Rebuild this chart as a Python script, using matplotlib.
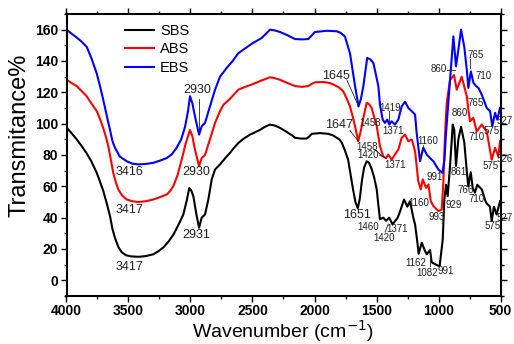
import matplotlib
matplotlib.use("Agg")
import matplotlib.pyplot as plt
from matplotlib.ticker import MultipleLocator
from matplotlib.transforms import blended_transform_factory

plt.rcParams['font.family'] = ['Liberation Sans', 'DejaVu Sans']

# ---------------- data ----------------
sbs_wn = [4000, 3960, 3918, 3880, 3837, 3800, 3756, 3730, 3703, 3675, 3649, 3630, 3609, 3580,
          3555, 3520, 3480, 3417, 3360, 3300, 3260, 3219, 3180, 3139, 3100, 3058, 3030, 3010,
          2995, 2977, 2950, 2931, 2910, 2883, 2856, 2829, 2802, 2762, 2720, 2681, 2650, 2614,
          2570, 2520, 2480, 2440, 2400, 2359, 2320, 2278, 2240, 2211, 2180, 2157, 2110, 2063,
          2040, 2022, 1955, 1889, 1850, 1821, 1800, 1781, 1755, 1729, 1710, 1689, 1670, 1651,
          1635, 1617, 1600, 1579, 1560, 1539, 1520, 1498, 1485, 1472, 1445, 1423, 1397, 1371,
          1329, 1310, 1278, 1251, 1230, 1203, 1189, 1170, 1160, 1135, 1110, 1095, 1068, 1055,
          1020, 991, 966, 953, 939, 926, 907, 885, 873, 859, 840, 818, 792, 773, 760, 740, 724,
          706, 687, 651, 617, 585, 571, 553, 531, 504]
sbs_t = [97.5, 94, 90, 86, 81, 76, 68.6, 63, 57, 49, 41, 33, 27, 21,
         18, 16, 15.3, 15, 15.5, 16.6, 18.5, 21, 24.5, 29, 35, 42, 51, 59,
         57.5, 53.7, 41, 33.6, 40, 42, 51.6, 64.4, 70.7, 74, 78, 81.4, 84.5, 87.7,
         90.5, 93, 94.5, 96, 98, 99.4, 98.8, 97.3, 95.5, 94, 92.5, 91, 90.5, 90.5,
         92, 93.5, 94, 93.5, 92.5, 91, 90, 88, 83, 77, 68, 58, 50, 46,
         52, 64, 72, 76, 75, 71, 66, 58, 48, 39, 40, 38, 40, 35.7,
         40, 44, 51.6, 47, 50.5, 40, 35.7, 24, 17, 24, 19, 16.6, 19.3, 11.5,
         10, 9, 26, 51.6, 61, 53.7, 73, 99.4, 96, 73, 90, 98, 88, 70.7, 60, 69, 59,
         56, 61, 58, 49.6, 47, 37.8, 47, 42, 50.5]

abs_wn = [4000, 3999, 3960, 3918, 3880, 3837, 3800, 3756, 3730, 3703, 3680, 3663, 3640, 3623,
          3600, 3582, 3550, 3514, 3470, 3421, 3360, 3300, 3250, 3192, 3165, 3139, 3105, 3071,
          3040, 3004, 2985, 2964, 2931, 2910, 2883, 2843, 2802, 2762, 2735, 2680, 2614, 2560,
          2506, 2430, 2359, 2320, 2278, 2220, 2157, 2100, 2050, 2020, 1996, 1930, 1880, 1848,
          1800, 1768, 1740, 1714, 1690, 1673, 1647, 1625, 1606, 1579, 1560, 1539, 1498, 1472,
          1445, 1423, 1405, 1378, 1351, 1324, 1297, 1270, 1243, 1216, 1189, 1163, 1143, 1127,
          1100, 1081, 1062, 1041, 1001, 974, 961, 947, 934, 907, 875, 853, 813, 772, 759, 746,
          719, 692, 652, 611, 571, 544, 517, 504]
abs_t = [30, 128, 126, 124, 121, 117.5, 113, 108, 103, 97, 91, 85.6, 76, 68.6,
         62, 58, 54, 51.6, 50.5, 50, 50.5, 51.6, 53, 54.8, 57, 60, 67, 77,
         87, 96, 92, 83.5, 72.8, 78, 80, 90, 100.5, 108, 112, 116, 121.7, 123.5,
         125, 127.5, 129.6, 129, 128, 126, 124, 123.5, 124, 125.5, 126.4, 126.6, 126, 125,
         123, 120.6, 116, 111, 104, 98.3, 88.8, 96, 103.7, 113.3, 112.5, 110, 98.3, 85.6,
         79, 78, 80.3, 77, 80.3, 83.5, 91, 93, 88.8, 90, 82.4, 63.3, 58, 64.4,
         59, 61.2, 50.5, 47.4, 44.2, 45.2, 62.3, 94, 113, 128, 131, 121.7, 130, 117.5, 109, 101.5,
         103.7, 95, 99.4, 95, 77, 84.6, 79, 88.8]

ebs_wn = [4000, 3999, 3960, 3918, 3880, 3837, 3800, 3756, 3730, 3703, 3675, 3649, 3630, 3609,
          3570, 3514, 3470, 3421, 3360, 3300, 3250, 3192, 3150, 3112, 3075, 3044, 3020, 3004,
          2985, 2964, 2931, 2910, 2883, 2843, 2802, 2762, 2708, 2660, 2614, 2560, 2506, 2426,
          2390, 2359, 2320, 2278, 2220, 2157, 2100, 2050, 2020, 1996, 1900, 1821, 1790, 1755,
          1714, 1673, 1645, 1625, 1606, 1575, 1550, 1525, 1485, 1472, 1450, 1432, 1413, 1397,
          1378, 1351, 1324, 1297, 1270, 1243, 1216, 1189, 1176, 1149, 1122, 1095, 1068, 1041,
          1001, 968, 952, 941, 925, 907, 880, 859, 840, 818, 792, 772, 759, 739, 718, 697,
          678, 651, 611, 584, 566, 544, 526, 504]
ebs_t = [60, 160, 157.5, 155, 152.5, 149, 142, 132, 124, 115, 105, 96, 89, 84.6,
         79, 76, 74.5, 74, 74.3, 75, 76.3, 78, 80.5, 84.6, 90, 98, 108, 117.5,
         113, 104.7, 93, 98.3, 100.5, 111, 121.7, 130, 135.6, 140, 145, 148, 151, 154.7,
         157.5, 160, 159.5, 158.5, 156.5, 154, 153.8, 154, 156.5, 158.5, 159.3, 159, 158, 155.7,
         145, 124, 111, 116, 124, 142, 141, 138.7, 124, 112, 102.6, 100.5, 102.6, 99.4,
         101.5, 99.4, 102.6, 111, 114, 110, 108, 105.8, 94, 76, 84.6, 80.3, 78, 76,
         70.7, 68.6, 77, 92, 109, 128, 155.7, 136.6, 147, 160, 149, 134.5, 122.8, 133.4, 126, 124,
         122.8, 118.5, 110, 108, 98.3, 106.9, 102.6, 110]

series_names = ["SBS", "ABS", "EBS"]
series_colors = ["black", "#ff0000", "#0000ff"]

# peak labels: (text, wavenumber, transmittance, size)
peak_labels = [
    ("3417", 3488, 8.3, 9), ("3417", 3488, 45, 9), ("3416", 3488, 69, 9),
    ("2930", 2948, 121.7, 9), ("2930", 2950, 69, 9), ("2931", 2950, 29, 9),
    ("1645", 1826, 130.6, 9), ("1647", 1800, 99.4, 9), ("1651", 1660, 41.6, 9),
    ("1458", 1552, 100.5, 7), ("1419", 1391, 110, 7), ("1371", 1364, 95, 7),
    ("1458", 1579, 85.2, 7), ("1420", 1566, 79.7, 7), ("1371", 1351, 73.3, 7),
    ("1160", 1090, 88.8, 7), ("991", 1028, 66, 7), ("1160", 1163, 49.5, 7),
    ("993", 1014, 40.6, 7), ("929", 880, 48.4, 7), ("861", 840, 69, 7),
    ("860", 826, 107, 7), ("765", 700, 113, 7), ("710", 697, 91.6, 7),
    ("575", 579, 72.8, 7), ("575", 571, 95, 7),
    ("860", 1001, 135, 7), ("765", 697, 144, 7),
    ("710", 639, 130.6, 7), ("766", 778, 57.5, 7), ("710", 697, 52, 7),
    ("575", 566, 34.6, 7), ("1460", 1566, 34, 7),
    ("1420", 1439, 27.2, 7), ("1371", 1337, 33, 7), ("1162", 1182, 10.8, 7),
    ("1082", 1095, 4.5, 7), ("991", 940, 6, 7),
]
# labels at the right edge (right-aligned so they stay inside the picture)
edge_labels = [("526", 77.5), ("527", 101.5), ("527", 39.5)]

# leader lines: ((wn1, t1), (wn2, t2))
leader_lines = [
    ((2931, 116), (2931, 96)),
    ((1740, 128), (1647, 111.5)),
    ((1714, 95.6), (1647, 88.8)),
    ((1515, 83.5), (1447, 79)),
    ((1478, 80), (1423, 78)),
    ((1400, 108), (1400, 101)),
    ((1120, 86), (1152, 77)),
    ((1430, 30.8), (1405, 36)),
    ((1068, 9), (1068, 19)),
    ((930, 134.5), (867, 134.5)),
    ((746, 141), (746, 135.5)),
]

# ---------------- figure ----------------
fig = plt.figure(figsize=(5.14, 3.44), dpi=100)
ax = fig.add_axes([66.5 / 514, 48 / 344, 434 / 514, 282 / 344])

for wn, t, name, c in zip([sbs_wn, abs_wn, ebs_wn], [sbs_t, abs_t, ebs_t], series_names, series_colors):
    ax.plot(wn, t, color=c, lw=1.5, label=name, solid_joinstyle='round')

ax.set_xlim(4000, 500)
ax.set_ylim(-10, 170)

for txt, x, y, s in peak_labels:
    ax.text(x, y, txt, fontsize=s, ha='center', va='center', color='#222222', clip_on=False)

edge_tr = blended_transform_factory(fig.transFigure, ax.transData)
for txt, y in edge_labels:
    ax.text(513 / 514, y, txt, fontsize=7, ha='right', va='center', color='#222222',
            transform=edge_tr, clip_on=False)

for (x1, y1), (x2, y2) in leader_lines:
    ax.plot([x1, x2], [y1, y2], color='#222222', lw=0.6)

ax.xaxis.set_major_locator(MultipleLocator(500))
ax.xaxis.set_minor_locator(MultipleLocator(250))
ax.yaxis.set_minor_locator(MultipleLocator(10))
ax.set_yticks(range(0, 161, 20))
ax.tick_params(which='both', direction='out', top=True, right=True, width=1.0)
ax.tick_params(which='major', length=4, labelsize=10, pad=2)
ax.tick_params(which='minor', length=2.5)
for lab in ax.get_xticklabels() + ax.get_yticklabels():
    lab.set_fontweight('bold')
for sp in ax.spines.values():
    sp.set_linewidth(1.5)

ax.set_xlabel('Wavenumber (cm$^{-1}$)', fontsize=14, labelpad=0)
fig.text(20 / 514, 1 - 135 / 344, 'Transmitance%', rotation=90, fontsize=17,
         ha='center', va='center')

ax.legend(loc='upper left', bbox_to_anchor=(0.135, 0.965), frameon=False, fontsize=10.5,
          handlelength=2.0, handletextpad=0.4, labelspacing=0.3, borderpad=0, borderaxespad=0)

fig.savefig('out.png', dpi=100)
